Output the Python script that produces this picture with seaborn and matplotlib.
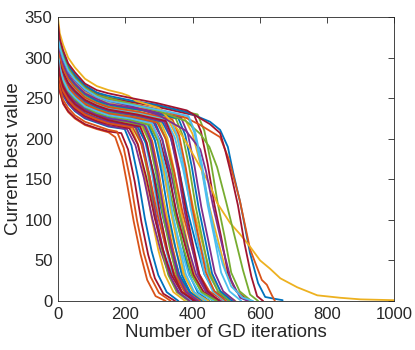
import pandas as pd
import seaborn as sns
import matplotlib.pyplot as plt

# All runs were logged at the same early iterations, so the start of every
# trace shares these x positions; after that each run has its own points.
head_iters = [0, 5, 15, 30, 50, 80, 115, 150]

# Each run: (best values at head_iters, later iterations, best values there),
# grouped by the colour MATLAB gave them (default colour order).
blue_runs = [
    ([285, 268, 253, 243, 234, 225, 220, 215],
     [198, 218, 238, 258, 278, 298, 323, 358],
     [212, 192, 152, 102, 62, 32, 11, 0]),
    ([307, 290, 275, 263, 253, 242, 235, 231],
     [220, 290, 310, 330, 350, 370, 390, 415, 450],
     [226, 219, 199, 159, 109, 69, 33, 11, 0]),
    ([294, 277, 262, 251, 242, 232, 226, 222],
     [193, 236, 261, 286, 311, 336, 361, 391, 436],
     [218, 215, 195, 155, 105, 65, 32, 11, 0]),
    ([312, 294, 280, 267, 257, 246, 239, 234],
     [230, 310, 335, 360, 385, 410, 435, 465, 510],
     [229, 221, 201, 161, 111, 71, 33, 12, 0]),
    ([302, 285, 270, 258, 248, 238, 232, 227],
     [209, 268, 288, 308, 328, 348, 368, 393, 428],
     [224, 218, 198, 158, 108, 68, 32, 11, 0]),
    ([323, 306, 291, 277, 267, 255, 247, 242],
     [254, 358, 378, 398, 418, 438, 458, 483, 518],
     [235, 225, 205, 165, 115, 75, 34, 12, 0]),
    ([337, 319, 305, 290, 279, 266, 257, 253],
     [220, 294, 383, 452, 482, 505, 521, 542, 571, 595, 616, 640, 668],
     [247, 242, 233, 221, 211, 190, 158, 121, 59, 22, 5, 3, 1]),
]

orange_runs = [
    ([275, 258, 243, 233, 225, 217, 212, 208],
     [170, 190, 205, 225, 245, 265, 290, 320],
     [202, 178, 145, 98, 58, 26, 6, 0]),
    ([300, 283, 268, 256, 247, 237, 230, 226],
     [205, 260, 280, 300, 320, 340, 360, 385, 420],
     [223, 217, 197, 157, 107, 67, 32, 11, 0]),
    ([280, 263, 248, 238, 229, 221, 216, 211],
     [175, 195, 215, 235, 255, 275, 300, 335],
     [209, 189, 149, 99, 59, 30, 10, 0]),
    ([308, 291, 276, 264, 254, 243, 236, 231],
     [222, 295, 320, 345, 370, 395, 420, 450, 495],
     [227, 220, 200, 160, 110, 70, 33, 12, 0]),
    ([291, 274, 259, 248, 239, 230, 224, 219],
     [222, 247, 272, 297, 322, 347, 377, 422],
     [214, 194, 154, 104, 64, 32, 11, 0]),
    ([319, 302, 287, 274, 263, 251, 244, 239],
     [245, 340, 360, 380, 400, 420, 440, 465, 500],
     [233, 224, 204, 164, 114, 74, 35, 12, 0]),
    ([332, 314, 300, 285, 274, 261, 253, 249],
     [220, 300, 380, 423, 482, 506, 517, 540, 571, 606, 621, 636, 645],
     [243, 236, 226, 217, 202, 177, 161, 125, 64, 26, 20, 7, 0]),
]

yellow_runs = [
    ([290, 273, 258, 247, 238, 229, 223, 219],
     [218, 238, 258, 278, 298, 318, 343, 378],
     [213, 193, 153, 103, 63, 32, 11, 0]),
    ([311, 293, 279, 266, 256, 245, 238, 233],
     [228, 305, 325, 345, 365, 385, 405, 430, 465],
     [229, 221, 201, 161, 111, 71, 33, 12, 0]),
    ([297, 280, 265, 254, 244, 234, 228, 224],
     [199, 248, 273, 298, 323, 348, 373, 403, 448],
     [220, 216, 196, 156, 106, 66, 32, 11, 0]),
    ([316, 299, 284, 271, 261, 249, 242, 237],
     [239, 328, 353, 378, 403, 428, 453, 483, 528],
     [231, 223, 203, 163, 113, 73, 34, 12, 0]),
    ([304, 287, 272, 260, 250, 240, 233, 228],
     [213, 276, 296, 316, 336, 356, 376, 401, 436],
     [224, 218, 198, 158, 108, 68, 32, 11, 0]),
    ([327, 310, 295, 281, 270, 258, 250, 245],
     [262, 375, 400, 425, 450, 475, 500, 530, 575],
     [237, 226, 206, 166, 116, 76, 35, 12, 0]),
    ([348, 330, 316, 300, 288, 274, 265, 260],
     [190, 210, 230, 300, 350, 378, 423, 452, 473, 512, 542, 571, 601, 630,
      661, 711, 771, 839, 900, 1000],
     [256, 253, 247, 238, 215, 198, 165, 143, 121, 96, 82, 67, 50, 40,
      28, 17, 7, 4, 2, 1]),
]

purple_runs = [
    ([287, 270, 255, 244, 235, 226, 221, 216],
     [205, 230, 255, 280, 305, 330, 360, 405],
     [212, 192, 152, 102, 62, 32, 11, 0]),
    ([306, 289, 274, 262, 252, 241, 235, 230],
     [218, 285, 310, 335, 360, 385, 410, 440, 485],
     [225, 219, 199, 159, 109, 69, 33, 11, 0]),
    ([294, 276, 262, 250, 241, 231, 225, 221],
     [232, 252, 272, 292, 312, 332, 357, 392],
     [214, 194, 154, 104, 64, 32, 11, 0]),
    ([313, 296, 281, 268, 258, 247, 240, 235],
     [233, 316, 336, 356, 376, 396, 416, 441, 476],
     [229, 221, 201, 161, 111, 71, 33, 12, 0]),
    ([299, 282, 267, 255, 246, 236, 230, 225],
     [203, 256, 276, 296, 316, 336, 356, 381, 416],
     [222, 217, 197, 157, 107, 67, 32, 11, 0]),
    ([325, 308, 293, 279, 268, 256, 249, 243],
     [258, 366, 386, 406, 426, 446, 466, 491, 526],
     [236, 226, 206, 166, 116, 76, 35, 12, 0]),
    ([330, 312, 298, 283, 272, 260, 252, 247],
     [220, 300, 380, 423, 440, 462, 490, 515, 542, 565],
     [240, 229, 210, 187, 160, 115, 65, 25, 4, 0]),
]

green_runs = [
    ([293, 275, 261, 249, 240, 231, 225, 220],
     [228, 248, 268, 288, 308, 328, 353, 388],
     [215, 195, 155, 105, 65, 32, 11, 0]),
    ([310, 292, 278, 265, 255, 244, 237, 232],
     [225, 300, 320, 340, 360, 380, 400, 425, 460],
     [228, 220, 200, 160, 110, 70, 33, 12, 0]),
    ([298, 281, 266, 254, 245, 235, 229, 224],
     [201, 252, 272, 292, 312, 332, 352, 377, 412],
     [221, 216, 196, 156, 106, 66, 32, 11, 0]),
    ([321, 304, 289, 276, 265, 253, 246, 240],
     [250, 350, 370, 390, 410, 430, 450, 475, 510],
     [235, 225, 205, 165, 115, 75, 34, 12, 0]),
    ([303, 286, 271, 259, 249, 239, 232, 228],
     [211, 272, 297, 322, 347, 372, 397, 427, 472],
     [224, 217, 197, 157, 107, 67, 32, 11, 0]),
    ([337, 319, 305, 290, 278, 265, 257, 251],
     [283, 415, 435, 455, 475, 495, 515, 540, 575],
     [242, 230, 210, 170, 120, 80, 35, 12, 0]),
    ([333, 316, 301, 287, 275, 263, 254, 250],
     [220, 300, 380, 423, 450, 473, 500, 525, 550, 571, 595],
     [243, 234, 222, 206, 190, 165, 122, 80, 38, 8, 0]),
]

cyan_runs = [
    ([295, 278, 263, 252, 243, 233, 227, 222],
     [195, 240, 260, 280, 300, 320, 340, 365, 400],
     [218, 215, 195, 155, 105, 65, 32, 11, 0]),
    ([315, 297, 283, 270, 259, 248, 241, 236],
     [236, 322, 347, 372, 397, 422, 447, 477, 522],
     [230, 222, 202, 162, 112, 72, 33, 12, 0]),
    ([301, 284, 269, 257, 248, 237, 231, 226],
     [207, 264, 289, 314, 339, 364, 389, 419, 464],
     [223, 217, 197, 157, 107, 67, 32, 11, 0]),
    ([318, 300, 286, 272, 262, 251, 243, 238],
     [243, 335, 355, 375, 395, 415, 435, 460, 495],
     [232, 223, 203, 163, 113, 73, 34, 12, 0]),
    ([305, 288, 273, 260, 251, 240, 234, 229],
     [215, 280, 300, 320, 340, 360, 380, 405, 440],
     [225, 219, 199, 159, 109, 69, 33, 11, 0]),
    ([330, 312, 298, 283, 272, 260, 252, 246],
     [268, 385, 405, 425, 445, 465, 485, 510, 545],
     [239, 228, 208, 168, 118, 78, 35, 12, 0]),
    ([331, 313, 299, 284, 273, 261, 252, 247],
     [270, 388, 408, 428, 448, 468, 490, 515, 550, 580],
     [238, 228, 208, 168, 118, 78, 45, 18, 4, 0]),
]

red_runs = [
    ([276, 259, 244, 234, 226, 218, 213, 209],
     [188, 208, 228, 248, 268, 288, 313, 348],
     [207, 187, 147, 97, 57, 28, 9, 0]),
    ([304, 287, 272, 260, 250, 240, 233, 229],
     [214, 278, 303, 328, 353, 378, 403, 433, 478],
     [224, 218, 198, 158, 108, 68, 32, 11, 0]),
    ([289, 272, 257, 246, 237, 228, 222, 218],
     [212, 237, 262, 287, 312, 337, 367, 412],
     [213, 193, 153, 103, 63, 32, 11, 0]),
    ([314, 297, 282, 269, 259, 248, 241, 236],
     [235, 320, 340, 360, 380, 400, 420, 445, 480],
     [230, 222, 202, 162, 112, 72, 33, 12, 0]),
    ([296, 279, 264, 253, 243, 234, 228, 223],
     [197, 244, 264, 284, 304, 324, 344, 369, 404],
     [219, 215, 195, 155, 105, 65, 32, 11, 0]),
    ([335, 317, 303, 288, 276, 264, 255, 250],
     [278, 405, 425, 445, 465, 485, 505, 530, 565],
     [241, 229, 209, 169, 119, 79, 35, 12, 0]),
    ([341, 323, 309, 293, 282, 268, 260, 256],
     [220, 294, 383, 452, 482, 497, 512, 535, 555, 575, 592, 610],
     [250, 244, 235, 218, 207, 186, 161, 118, 70, 30, 6, 0]),
]

groups = [
    ("#0072BD", blue_runs),
    ("#D95319", orange_runs),
    ("#EDB120", yellow_runs),
    ("#7E2F8E", purple_runs),
    ("#77AC30", green_runs),
    ("#4DBEEE", cyan_runs),
    ("#A2142F", red_runs),
]

# long table, runs in the order MATLAB would have drawn them
rows = []
order = []
palette = {}
for i in range(7):
    for color, runs in groups:
        run_id = f"{color}_{i}"
        order.append(run_id)
        palette[run_id] = color
        head_vals, tail_x, tail_y = runs[i]
        x = head_iters + tail_x
        y = head_vals + tail_y
        rows += [(run_id, xi, yi) for xi, yi in zip(x, y)]
df = pd.DataFrame(rows, columns=["run", "iteration", "best"])

sns.set_style("white")
plt.rcParams['font.family'] = ['Liberation Sans', 'DejaVu Sans']

fig = plt.figure(figsize=(4.15, 3.5), dpi=100)
ax = fig.add_axes([0.140, 0.140, 0.810, 0.811])
sns.lineplot(data=df, x="iteration", y="best", hue="run", hue_order=order,
             palette=palette, estimator=None, sort=False, legend=False,
             linewidth=1.3, ax=ax)

ax.set_xlim(0, 1000)
ax.set_ylim(0, 350)
ax.set_xticks(range(0, 1001, 200))
ax.set_yticks(range(0, 351, 50))
ax.tick_params(direction='in', top=True, right=True, length=4, width=0.6,
               colors='#262626', labelsize=12, pad=4)
for s in ax.spines.values():
    s.set_visible(True)
    s.set_color('#262626')
    s.set_linewidth(0.6)
ax.set_xlabel("Number of GD iterations", fontsize=13.5, color='#262626', labelpad=2)
ax.set_ylabel("Current best value", fontsize=13.5, color='#262626', labelpad=2)

fig.savefig("out.png", dpi=100)
